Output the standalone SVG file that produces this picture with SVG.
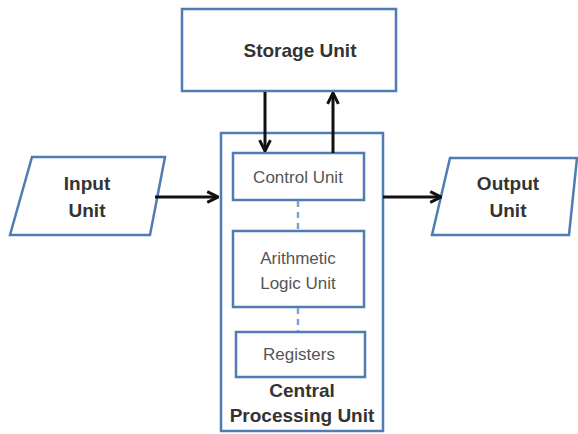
<svg xmlns="http://www.w3.org/2000/svg" width="578" height="434" viewBox="0 0 578 434">
<defs>
<style>
.box{fill:#fff;stroke:#4f7db3;stroke-width:2.5}
.b{font-family:"Liberation Sans",Arial,sans-serif;font-weight:bold;font-size:19px;fill:#333;text-anchor:middle}
.r{font-family:"Liberation Sans",Arial,sans-serif;font-size:17px;fill:#555;text-anchor:middle}
.arr{stroke:#111;stroke-width:3;fill:none;marker-end:url(#ah)}
.dash{stroke:#7aa3d0;stroke-width:2.5;stroke-dasharray:6 5;fill:none}
</style>
<marker id="ah" viewBox="0 0 10 10" refX="9" refY="5" markerWidth="4.5" markerHeight="4.5" orient="auto-start-reverse" markerUnits="strokeWidth">
<path d="M1,1 L9,5 L1,9" fill="none" stroke="#111" stroke-width="2.2"/>
</marker>
</defs>
<rect width="578" height="434" fill="#fff"/>
<g id="storage">
<rect class="box" x="182" y="9" width="214" height="82"/>
<text class="b" x="300" y="57">Storage Unit</text>
</g>
<g id="cpu">
<rect class="box" x="221" y="133" width="162" height="298"/>
<text class="b" x="302" y="397">Central</text>
<text class="b" x="302" y="422">Processing Unit</text>
</g>
<g id="control">
<rect class="box" x="233" y="153" width="131" height="47"/>
<text class="r" x="298" y="183">Control Unit</text>
</g>
<g id="alu">
<rect class="box" x="233" y="231" width="131" height="76"/>
<text class="r" x="298" y="264">Arithmetic</text>
<text class="r" x="298" y="289">Logic Unit</text>
</g>
<g id="registers">
<rect class="box" x="236" y="332" width="129" height="45"/>
<text class="r" x="299" y="360">Registers</text>
</g>
<g id="input">
<polygon class="box" points="32,157 165,157 150,235 10,235"/>
<text class="b" x="87" y="190">Input</text>
<text class="b" x="87" y="217">Unit</text>
</g>
<g id="output">
<polygon class="box" points="450,158 577,158 569,235 432,235"/>
<text class="b" x="508" y="190">Output</text>
<text class="b" x="508" y="217">Unit</text>
</g>
<g id="connectors">
<line class="arr" x1="265" y1="92" x2="265" y2="151"/>
<line class="arr" x1="333" y1="153" x2="333" y2="93"/>
<line class="arr" x1="155" y1="197" x2="218" y2="197"/>
<line class="arr" x1="383" y1="197" x2="441" y2="197"/>
<line class="dash" x1="298" y1="201" x2="298" y2="230"/>
<line class="dash" x1="298" y1="308" x2="298" y2="331"/>
</g>
</svg>
